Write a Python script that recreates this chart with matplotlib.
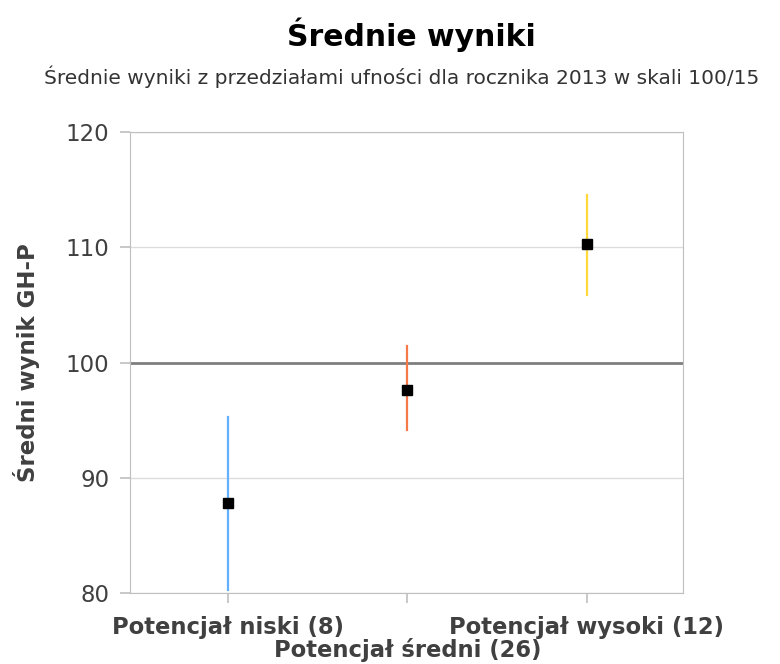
import numpy as np
import matplotlib
matplotlib.use('Agg')
import matplotlib.pyplot as plt

# category labels and values
labels = ['Potencjał niski (8)', 'Potencjał średni (26)', 'Potencjał wysoki (12)']
means = [87.8, 97.6, 110.3]
ci_low = [80.3, 94.1, 105.9]
ci_high = [95.3, 101.4, 114.5]
colors = ['#63b0ff', '#f7794a', '#ffd83a']
yticks = [80, 90, 100, 110, 120]

plt.rcParams['font.family'] = ['DejaVu Sans']

fig = plt.figure(figsize=(7.8, 6.64), dpi=100)
ax = fig.add_axes([130 / 780, 1 - 593 / 664, 553 / 780, 461 / 664])

x = np.arange(len(labels))
for i in x:
    ax.plot([i, i], [ci_low[i], ci_high[i]], color=colors[i], lw=1.6, zorder=3)
ax.plot(x, means, 's', color='black', ms=7, zorder=4)

ax.axhline(100, color='#7f7f7f', lw=2, zorder=2)

ax.set_xlim(-0.546, 2.535)
ax.set_ylim(80, 120)
ax.set_yticks(yticks)
ax.set_yticklabels([str(v) for v in yticks], fontsize=16.5, color='#404040')
ax.grid(axis='y', color='#dcdcdc', lw=1)
ax.set_axisbelow(True)

ax.set_xticks(x)
ax.set_xticklabels(['' for _ in labels])
for i, lab in enumerate(labels):
    dy = -0.05 if i % 2 == 0 else -0.098
    ax.text(i, dy, lab, transform=ax.get_xaxis_transform(), fontsize=16.3,
            fontweight='bold', color='#404040', ha='center', va='top')

for s in ax.spines.values():
    s.set_color('#bfbfbf')
ax.tick_params(axis='both', colors='#bfbfbf', length=7, width=1.2, labelcolor='#404040')
ax.tick_params(axis='y', pad=8)

ax.set_ylabel('Średni wynik GH-P', fontsize=16.5, fontweight='bold', color='#404040')
ax.yaxis.set_label_coords(-0.162, 0.5)

fig.text(0.527, 0.947, 'Średnie wyniki', ha='center', va='center', fontsize=21.5, fontweight='bold')
fig.text(0.515, 0.885, 'Średnie wyniki z przedziałami ufności dla rocznika 2013 w skali 100/15',
         ha='center', va='center', fontsize=14.5, color='#333333', family='DejaVu Sans Condensed')

fig.savefig('out.png', dpi=100)
